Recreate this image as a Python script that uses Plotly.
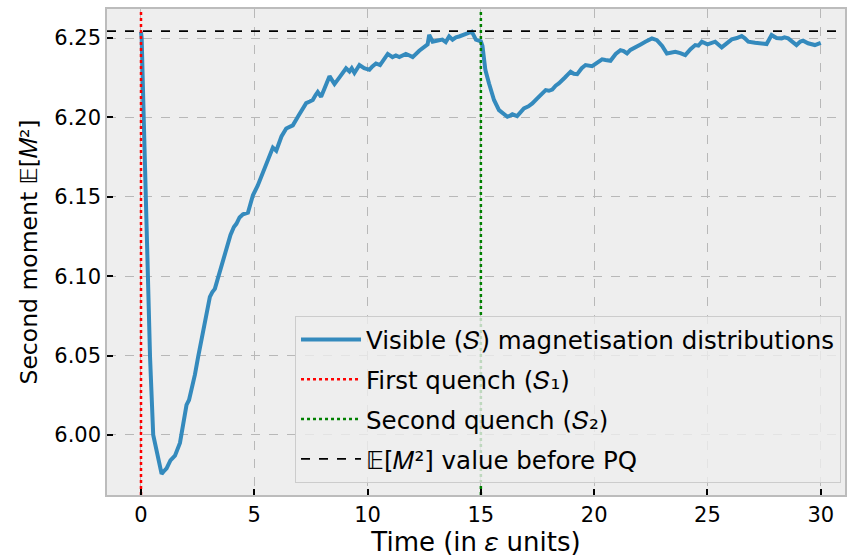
import plotly.graph_objects as go

# Time (in epsilon units)
time = [0.0, 0.03, 0.12, 0.25, 0.4, 0.54, 0.7, 0.82, 0.91, 1.0, 1.13, 1.3, 1.5, 1.72, 1.85, 2.01, 2.12, 2.23, 2.38, 2.52,
        2.7, 2.88, 3.04, 3.15, 3.26, 3.38, 3.48, 3.62, 3.77, 3.95, 4.1, 4.21, 4.35, 4.5, 4.72, 4.94, 5.15, 5.38,
        5.6, 5.82, 5.97, 6.2, 6.41, 6.55, 6.7, 6.95, 7.1, 7.29, 7.45, 7.58, 7.7, 7.8, 7.95, 8.15, 8.32, 8.45,
        8.54, 8.8, 8.95, 9.05, 9.2, 9.3, 9.42, 9.64, 9.85, 10.08, 10.2, 10.37, 10.55, 10.66, 10.89, 11.1, 11.25,
        11.4, 11.55, 11.69, 11.85, 11.99, 12.28, 12.5, 12.65, 12.72, 12.87, 13.1, 13.3, 13.45, 13.6, 13.75,
        13.9, 14.04, 14.2, 14.34, 14.6, 14.78, 15.0, 15.07, 15.2, 15.36, 15.58, 15.8, 16.0, 16.17, 16.3,
        16.39, 16.6, 16.75, 16.9, 17.1, 17.27, 17.49, 17.7, 17.86, 18.0, 18.15, 18.3, 18.44, 18.7, 18.96,
        19.1, 19.25, 19.45, 19.62, 19.91, 20.15, 20.35, 20.5, 20.72, 20.95, 21.16, 21.3, 21.45, 21.6, 21.82,
        22.05, 22.26, 22.55, 22.77, 23.0, 23.21, 23.4, 23.58, 23.8, 24.02, 24.25, 24.46, 24.6, 24.75, 25.0,
        25.19, 25.34, 25.63, 25.85, 26.07, 26.3, 26.51, 26.65, 26.8, 27.1, 27.39, 27.61, 27.83, 28.05,
        28.27, 28.4, 28.56, 28.75, 28.93, 29.1, 29.22, 29.44, 29.6, 29.74, 30.0]

# Second moment E[M^2] of visible magnetisation distributions
second_moment = [6.254, 6.250, 6.200, 6.120, 6.049, 6.000, 5.990, 5.982, 5.9755, 5.977, 5.979, 5.984, 5.987, 5.995,
                 6.005, 6.019, 6.022, 6.028, 6.038, 6.049, 6.062, 6.076, 6.087, 6.090, 6.092, 6.098, 6.103,
                 6.110, 6.118, 6.126, 6.131, 6.133, 6.137, 6.139, 6.140, 6.151, 6.157, 6.165, 6.173, 6.181,
                 6.179, 6.188, 6.193, 6.194, 6.195, 6.201, 6.205, 6.209, 6.210, 6.211, 6.214, 6.216, 6.213,
                 6.220, 6.226, 6.223, 6.221, 6.226, 6.229, 6.231, 6.229, 6.231, 6.228, 6.233, 6.231, 6.230,
                 6.232, 6.234, 6.233, 6.235, 6.240, 6.238, 6.239, 6.238, 6.239, 6.240, 6.239, 6.238, 6.242,
                 6.2445, 6.246, 6.252, 6.2477, 6.2485, 6.249, 6.2475, 6.251, 6.249, 6.2505, 6.251, 6.252,
                 6.253, 6.254, 6.249, 6.248, 6.245, 6.2298, 6.2214, 6.211, 6.2046, 6.202, 6.2004, 6.2012,
                 6.202, 6.2008, 6.203, 6.2057, 6.207, 6.2088, 6.212, 6.215, 6.2172, 6.2168, 6.2176, 6.220,
                 6.2214, 6.225, 6.2288, 6.2275, 6.2273, 6.231, 6.233, 6.2323, 6.235, 6.2366, 6.2362, 6.2357,
                 6.240, 6.2424, 6.2418, 6.2403, 6.2425, 6.2445, 6.246, 6.2477, 6.2498, 6.2487, 6.245, 6.2403,
                 6.2408, 6.2414, 6.2405, 6.2393, 6.243, 6.2456, 6.2452, 6.2477, 6.246, 6.2467, 6.2477, 6.2441,
                 6.247, 6.2492, 6.250, 6.2513, 6.2498, 6.2477, 6.247, 6.2467, 6.2462, 6.2519, 6.250, 6.2498,
                 6.2505, 6.2498, 6.248, 6.2456, 6.2478, 6.2483, 6.2467, 6.2462, 6.2456, 6.247]

first_quench_t = 0.0
second_quench_t = 15.0
value_before_pq = 6.2544

x_ticks = [0, 5, 10, 15, 20, 25, 30]
y_ticks = [6.00, 6.05, 6.10, 6.15, 6.20, 6.25]
y_range = [5.9622, 6.2683]
x_range = [-1.5, 31.07]

fig = go.Figure()
fig.add_trace(go.Scatter(x=time, y=second_moment, mode="lines",
                         line=dict(color="#348ABD", width=4),
                         name="Visible (𝑆) magnetisation distributions", legendgroup="a"))
fig.add_trace(go.Scatter(x=[first_quench_t, first_quench_t], y=y_range, mode="lines",
                         line=dict(color="red", width=2.5, dash="dot"),
                         name="First quench (𝑆₁)", legendgroup="b"))
fig.add_trace(go.Scatter(x=[second_quench_t, second_quench_t], y=y_range, mode="lines",
                         line=dict(color="green", width=2.5, dash="dot"),
                         name="Second quench (𝑆₂)", legendgroup="c"))
fig.add_trace(go.Scatter(x=x_range, y=[value_before_pq, value_before_pq], mode="lines",
                         line=dict(color="black", width=1.8, dash="dash"),
                         name="𝔼[𝑀²] value before PQ", legendgroup="d"))

axis_common = dict(showline=True, mirror=True, linecolor="#bcbcbc", linewidth=1.5,
                   showgrid=True, gridcolor="#b8b8b8", griddash="dash", gridwidth=1,
                   ticks="inside", ticklen=6, tickwidth=1.5, tickcolor="black",
                   zeroline=False, tickfont=dict(size=21, color="black"))

fig.update_xaxes(range=x_range, tickvals=x_ticks, ticktext=[str(v) for v in x_ticks],
                 title=dict(text="Time (in 𝜀 units)", font=dict(size=26, color="black"), standoff=4),
                 **axis_common)
fig.update_yaxes(range=y_range, tickvals=y_ticks, ticktext=[f"{v:.2f}" for v in y_ticks],
                 title=dict(text="Second moment 𝔼[𝑀²]", font=dict(size=23.5, color="black"), standoff=10),
                 **axis_common)

fig.update_layout(
    width=848, height=559,
    margin=dict(l=107, r=1, t=9, b=64),
    paper_bgcolor="white", plot_bgcolor="#eeeeee",
    font=dict(family="DejaVu Sans", color="black"),
    showlegend=True,
    legend=dict(x=0.9946, y=0.0247, xanchor="right", yanchor="bottom",
                bgcolor="rgba(238,238,238,0.8)", bordercolor="#cccccc", borderwidth=1,
                font=dict(size=24.5, color="black"), itemwidth=60,
                traceorder="grouped", tracegroupgap=5),
)

fig.write_html("out.html", config={"displayModeBar": False},
               post_script="document.body.style.margin='0px';document.body.style.overflow='hidden';")
